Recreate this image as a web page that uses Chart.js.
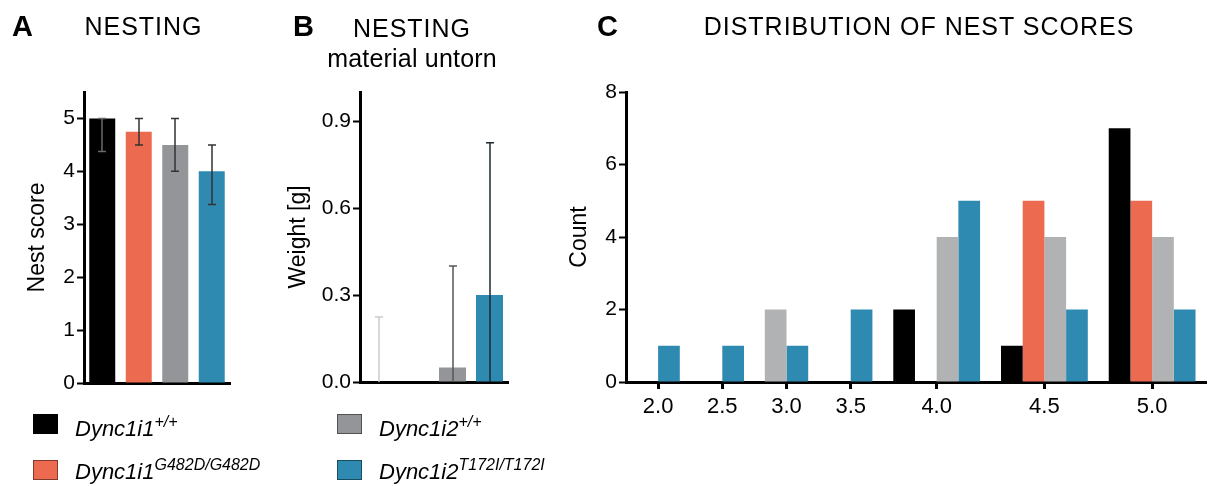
<!DOCTYPE html>
<html>
<head>
<meta charset="utf-8">
<script src="https://cdn.jsdelivr.net/npm/chart.js@4.4.1/dist/chart.umd.min.js"></script>
<style>
  html, body { margin: 0; padding: 0; background: #ffffff; }
  #wrap { position: relative; width: 1214px; height: 486px; overflow: hidden;
          font-family: "Liberation Sans", Arial, sans-serif; color: #000; }
  canvas { position: absolute; }
  .t { position: absolute; white-space: nowrap; line-height: 1; }
  .letter { font-size: 29px; font-weight: bold; }
  .title { font-size: 25px; letter-spacing: 1px; text-align: center; }
  .sub { font-size: 25px; letter-spacing: 0.2px; text-align: center; }
  .sw { position: absolute; width: 25px; height: 20px; box-sizing: border-box; border: 1px solid rgba(0,0,0,0.45); }
  .lg { font-size: 22px; font-style: italic; }
  .lg sup { font-size: 16px; position: relative; top: -9px; vertical-align: baseline; }
</style>
</head>
<body>
<div id="wrap">
  <canvas id="cA" width="250" height="400" style="left:0px;top:0px;width:250px;height:400px"></canvas>
  <canvas id="cB" width="270" height="400" style="left:260px;top:0px;width:270px;height:400px"></canvas>
  <canvas id="cC" width="674" height="430" style="left:540px;top:0px;width:674px;height:430px"></canvas>

  <div class="t letter" style="left:12px;top:11.5px">A</div>
  <div class="t title" style="left:43.5px;top:13.8px;width:200px">NESTING</div>

  <div class="t letter" style="left:293px;top:11.5px">B</div>
  <div class="t title" style="left:312px;top:15.8px;width:200px">NESTING</div>
  <div class="t sub" style="left:312px;top:45.8px;width:200px">material untorn</div>

  <div class="t letter" style="left:597px;top:11.5px">C</div>
  <div class="t title" style="left:669px;top:13.8px;width:500px">DISTRIBUTION OF NEST SCORES</div>

  <div id="legend"></div>
</div>

<script>
// ---------------- data ----------------
const genotypes = ['Dync1i1', 'Dync1i1', 'Dync1i2', 'Dync1i2'];
const genotypeSup = ['+/+', 'G482D/G482D', '+/+', 'T172I/T172I'];
const genotypeColors = ['#000000', '#EC6A4F', '#939598', '#2E8AB0'];

// Panel A: nest score, median with interquartile range
const nestMedian = [5, 4.75, 4.5, 4.0];
const nestQ1 = [4.375, 4.5, 4.0, 3.375];
const nestQ3 = [5, 5, 5, 4.5];

// Panel B: weight of untorn nesting material [g], mean with upper error
const untornMean = [0, 0, 0.05, 0.30];
const untornErrLow = [0, null, 0, 0];
const untornErrHigh = [0.224, null, 0.40, 0.825];

// Panel C: distribution of nest scores (counts)
const scoreCategories = ['2.0', '2.5', '3.0', '3.5', '4.0', '4.5', '5.0'];
const countI1WT  = [null, null, null, null, 2, 1, 7];
const countI1Mut = [null, null, null, null, 0, 5, 5];
const countI2WT  = [0, 0, 2, 0, 4, 4, 4];
const countI2Mut = [1, 1, 1, 2, 5, 2, 2];
const histColors = ['#000000', '#EC6A4F', '#B1B2B4', '#2E8AB0'];

// ---------------- helpers ----------------
const FONT = '"Liberation Sans", Arial, sans-serif';
Chart.defaults.font.family = FONT;
Chart.defaults.color = '#000';

const legendLabels = genotypes.map((g, i) => g + genotypeSup[i]);

function errorBarPlugin(low, high, colors, lowCap) {
  return {
    id: 'errbars',
    afterDatasetsDraw(chart) {
      const meta = chart.getDatasetMeta(0);
      const ys = chart.scales.y;
      const ctx = chart.ctx;
      ctx.save();
      ctx.lineWidth = 1.5;
      meta.data.forEach((bar, i) => {
        if (high[i] == null) return;
        const x = Math.round(bar.x);
        const yl = ys.getPixelForValue(low[i]);
        const yh = ys.getPixelForValue(high[i]);
        ctx.strokeStyle = colors[i];
        ctx.beginPath();
        ctx.moveTo(x, yl); ctx.lineTo(x, yh);
        ctx.moveTo(x - 4, yh); ctx.lineTo(x + 4, yh);
        if (lowCap) { ctx.moveTo(x - 4, yl); ctx.lineTo(x + 4, yl); }
        ctx.stroke();
      });
      ctx.restore();
    }
  };
}

function yAxis(min, max, step, title, width, titlePad, fmt) {
  return {
    min: min, max: max,
    ticks: { stepSize: step, includeBounds: false, font: { size: 21 }, color: '#000', padding: 2,
             callback: fmt || (v => v) },
    grid: { display: true, drawOnChartArea: false, drawTicks: true, tickLength: 7, tickWidth: 2, tickColor: '#000' },
    border: { display: true, color: '#000', width: 3 },
    title: { display: true, text: title, font: { size: 23 }, color: '#000', padding: { top: titlePad, bottom: 0 } },
    afterFit: s => { s.width = width; }
  };
}

const common = {
  responsive: false, animation: false, devicePixelRatio: 1,
  plugins: { legend: { display: false }, tooltip: { enabled: false } }
};

// ---------------- Panel A ----------------
new Chart(document.getElementById('cA'), {
  type: 'bar',
  data: {
    labels: legendLabels,
    datasets: [{ data: nestMedian, backgroundColor: genotypeColors, barPercentage: 0.712, categoryPercentage: 1, inflateAmount: 0 }]
  },
  options: Object.assign({}, common, {
    layout: { padding: { top: 92, right: 20, bottom: 17, left: 0 } },
    scales: {
      x: { grid: { display: false }, ticks: { display: false },
           border: { display: true, color: '#000', width: 3 }, afterFit: s => { s.height = 0; } },
      y: yAxis(0, 5.5, 1, 'Nest score', 84, 24)
    }
  }),
  plugins: [errorBarPlugin(nestQ1, nestQ3, ['#6a6a6a', '#333', '#333', '#333'], true)]
});

// ---------------- Panel B ----------------
new Chart(document.getElementById('cB'), {
  type: 'bar',
  data: {
    labels: legendLabels,
    datasets: [{ data: untornMean, backgroundColor: genotypeColors, barPercentage: 0.73, categoryPercentage: 1, inflateAmount: 0 }]
  },
  options: Object.assign({}, common, {
    layout: { padding: { top: 92, right: 22, bottom: 18, left: 0 } },
    scales: {
      x: { grid: { display: false }, ticks: { display: false },
           border: { display: true, color: '#000', width: 3 }, afterFit: s => { s.height = 0; } },
      y: yAxis(0, 1.0, 0.3, 'Weight [g]', 100, 25, v => Number(v).toFixed(1))
    }
  }),
  plugins: [errorBarPlugin(untornErrLow, untornErrHigh, ['#cccccc', '#000', '#555555', '#1d2a33'], false)]
});

// ---------------- Panel C ----------------
const histSeries = [countI1WT, countI1Mut, countI2WT, countI2Mut];
// number of series present (non-null) in each score category, used to size the groups
const groupSizes = scoreCategories.map((_, i) => histSeries.filter(s => s[i] !== null).length);
const GAP_UNITS = 0.95;   // gap between groups, in bar widths

class GroupWidthScale extends Chart.CategoryScale {
  getPixelForValue(value) {
    if (typeof value !== 'number') value = this.parse(value);
    if (value === null || isNaN(value)) return NaN;
    const idx = Math.max(0, Math.min(groupSizes.length - 1, Math.round(value)));
    let total = 0, before = 0;
    groupSizes.forEach((n, j) => {
      total += n + GAP_UNITS;
      if (j < idx) before += n + GAP_UNITS;
    });
    const center = before + (groupSizes[idx] + GAP_UNITS) / 2;
    return this.getPixelForDecimal(center / total);
  }
}
GroupWidthScale.id = 'groupWidth';
GroupWidthScale.defaults = {};
Chart.register(GroupWidthScale);

new Chart(document.getElementById('cC'), {
  type: 'bar',
  data: {
    labels: scoreCategories,
    datasets: histSeries.map((s, i) => ({
      label: legendLabels[i], data: s, backgroundColor: histColors[i],
      barThickness: 21.7, skipNull: true, inflateAmount: 0
    }))
  },
  options: Object.assign({}, common, {
    layout: { padding: { top: 92, right: 8, bottom: 0, left: 0 } },
    scales: {
      x: {
        type: 'groupWidth',
        ticks: { font: { size: 22 }, color: '#000', padding: 5, autoSkip: false, maxRotation: 0 },
        grid: { display: true, offset: false, drawOnChartArea: false, drawTicks: true, tickLength: 7, tickWidth: 3, tickColor: '#000' },
        border: { display: true, color: '#000', width: 3 },
        afterFit: s => { s.height = 48; }
      },
      y: yAxis(0, 8, 2, 'Count', 86, 26)
    }
  })
});

// ---------------- Legend ----------------
const legendPos = [
  { sx: 33, sy: 414, tx: 75, ty: 418.4 },
  { sx: 33, sy: 460, tx: 75, ty: 461.4 },
  { sx: 337, sy: 414, tx: 379, ty: 418.4 },
  { sx: 337, sy: 460, tx: 379, ty: 461.4 }
];
const legendEl = document.getElementById('legend');
genotypes.forEach((g, i) => {
  const p = legendPos[i];
  const sw = document.createElement('div');
  sw.className = 'sw';
  sw.style.left = p.sx + 'px'; sw.style.top = p.sy + 'px';
  sw.style.background = genotypeColors[i];
  legendEl.appendChild(sw);
  const tx = document.createElement('div');
  tx.className = 't lg';
  tx.style.left = p.tx + 'px'; tx.style.top = p.ty + 'px';
  tx.innerHTML = g + '<sup>' + genotypeSup[i] + '</sup>';
  legendEl.appendChild(tx);
});
</script>
</body>
</html>
